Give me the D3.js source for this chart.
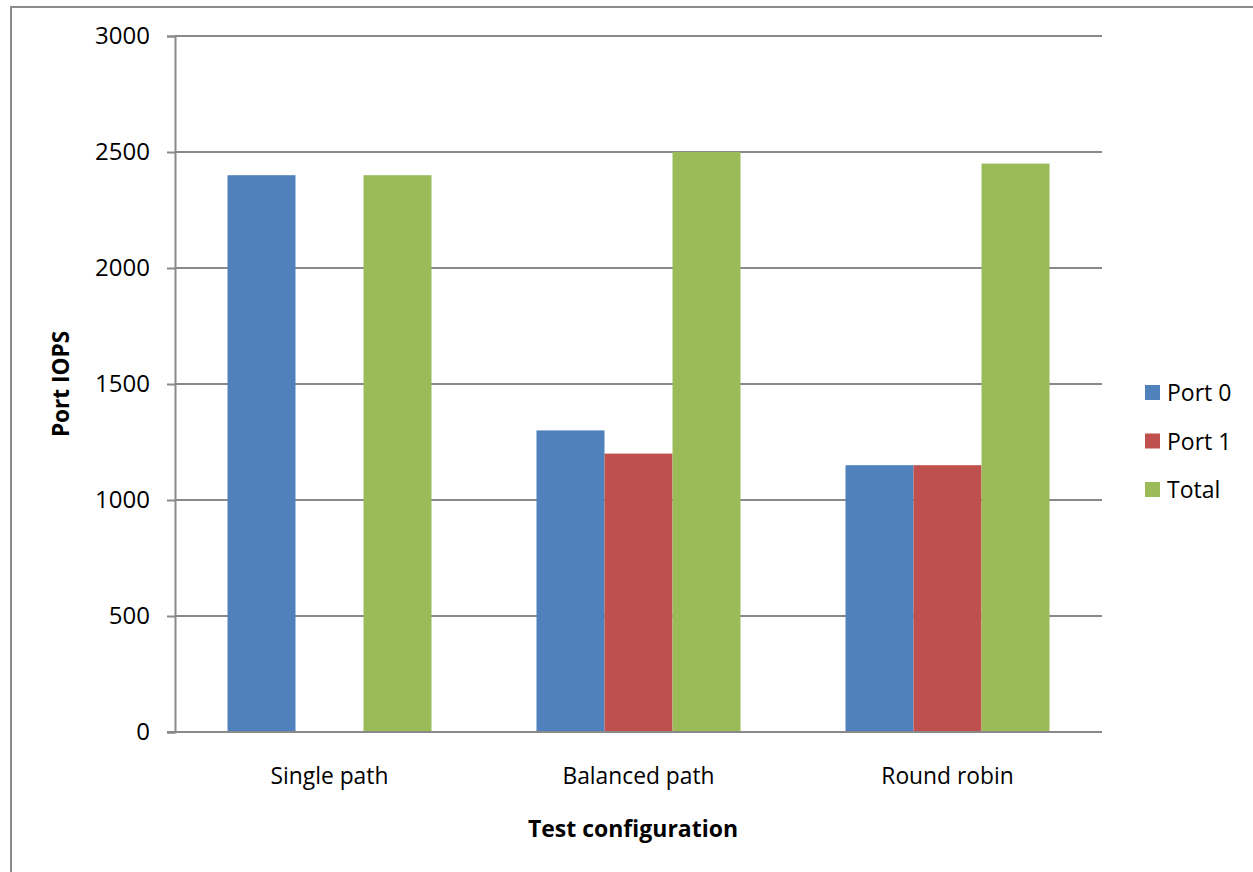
<!DOCTYPE html>
<html>
<head>
<meta charset="utf-8">
<script src="https://cdn.jsdelivr.net/npm/d3@7"></script>
<style>
  html, body { margin: 0; padding: 0; background: #fff; }
  svg { display: block; }
  text { font-family: "Open Sans", "Liberation Sans", sans-serif; fill: #000; }
</style>
</head>
<body>
<svg id="chart" width="1253" height="872"></svg>
<script>
// Port IOPS per test configuration
const categories = ["Single path", "Balanced path", "Round robin"];
const seriesNames = ["Port 0", "Port 1", "Total"];
const port0 = [2400, 1300, 1150];
const port1 = [0, 1200, 1150];
const total = [2400, 2500, 2450];
const yTicks = [0, 500, 1000, 1500, 2000, 2500, 3000];
const colors = ["#4F81BD", "#C0504D", "#9BBB59"];

const seriesValues = [port0, port1, total];

const svg = d3.select("#chart");
const W = 1253, H = 872;
const plot = { left: 175, top: 36, right: 1102, bottom: 732 };

// outer chart frame (left and top edges visible)
svg.append("path")
  .attr("d", `M11,${H} L11,7 L${W},7`)
  .attr("fill", "none")
  .attr("stroke", "#8c8c8c")
  .attr("stroke-width", 2);

const x0 = d3.scaleBand()
  .domain(categories)
  .range([plot.left, plot.right])
  .paddingInner(0)
  .paddingOuter(0);

const x1 = d3.scaleBand()
  .domain(seriesNames)
  .range([0, x0.bandwidth()])
  .paddingInner(0)
  .paddingOuter(0.772);

const y = d3.scaleLinear()
  .domain([0, 3000])
  .range([plot.bottom, plot.top]);

// horizontal gridlines
svg.append("g")
  .selectAll("line")
  .data(yTicks.filter(d => d > 0))
  .join("line")
  .attr("x1", plot.left)
  .attr("x2", plot.right)
  .attr("y1", d => y(d))
  .attr("y2", d => y(d))
  .attr("stroke", "#898989")
  .attr("stroke-width", 2);

// bars
const rows = categories.map((c, i) => ({
  cat: c,
  vals: seriesNames.map((s, j) => ({ s, v: seriesValues[j][i], color: colors[j] }))
}));

svg.append("g")
  .selectAll("g")
  .data(rows)
  .join("g")
  .attr("transform", d => `translate(${x0(d.cat)},0)`)
  .selectAll("rect")
  .data(d => d.vals.filter(v => v.v > 0))
  .join("rect")
  .attr("x", d => x1(d.s))
  .attr("width", x1.bandwidth())
  .attr("y", d => y(d.v))
  .attr("height", d => y(0) - y(d.v))
  .attr("fill", d => d.color);

// y axis
const yAxis = d3.axisLeft(y)
  .tickValues(yTicks)
  .tickSize(8)
  .tickPadding(17)
  .tickFormat(d3.format("d"));

const yg = svg.append("g")
  .attr("transform", `translate(${plot.left},0)`)
  .call(yAxis);
yg.select(".domain").attr("stroke", "#898989").attr("stroke-width", 2);
yg.selectAll(".tick line").attr("stroke", "#898989").attr("stroke-width", 2);
yg.selectAll(".tick text")
  .attr("font-family", "'Open Sans', sans-serif")
  .attr("font-size", 24)
  .attr("fill", "#000");

// x axis baseline
svg.append("line")
  .attr("x1", plot.left - 8)
  .attr("x2", plot.right)
  .attr("y1", y(0))
  .attr("y2", y(0))
  .attr("stroke", "#898989")
  .attr("stroke-width", 2);

// category labels
svg.append("g")
  .selectAll("text")
  .data(categories)
  .join("text")
  .attr("x", d => x0(d) + x0.bandwidth() / 2)
  .attr("y", 784)
  .attr("text-anchor", "middle")
  .attr("font-size", 22.8)
  .text(d => d);

// axis titles
svg.append("text")
  .attr("x", 633)
  .attr("y", 837)
  .attr("text-anchor", "middle")
  .attr("font-size", 23)
  .attr("font-weight", "bold")
  .text("Test configuration");

svg.append("text")
  .attr("transform", `translate(69,${(plot.top + plot.bottom) / 2}) rotate(-90)`)
  .attr("text-anchor", "middle")
  .attr("font-size", 22.6)
  .attr("font-weight", "bold")
  .text("Port IOPS");

// legend
const legend = svg.append("g")
  .selectAll("g")
  .data(seriesNames)
  .join("g")
  .attr("transform", (d, i) => `translate(1145,${385 + i * 48.5})`);

legend.append("rect")
  .attr("width", 15)
  .attr("height", 15)
  .attr("fill", (d, i) => colors[i]);

legend.append("text")
  .attr("x", 22)
  .attr("y", 16)
  .attr("font-size", 23)
  .text(d => d);
</script>
</body>
</html>
